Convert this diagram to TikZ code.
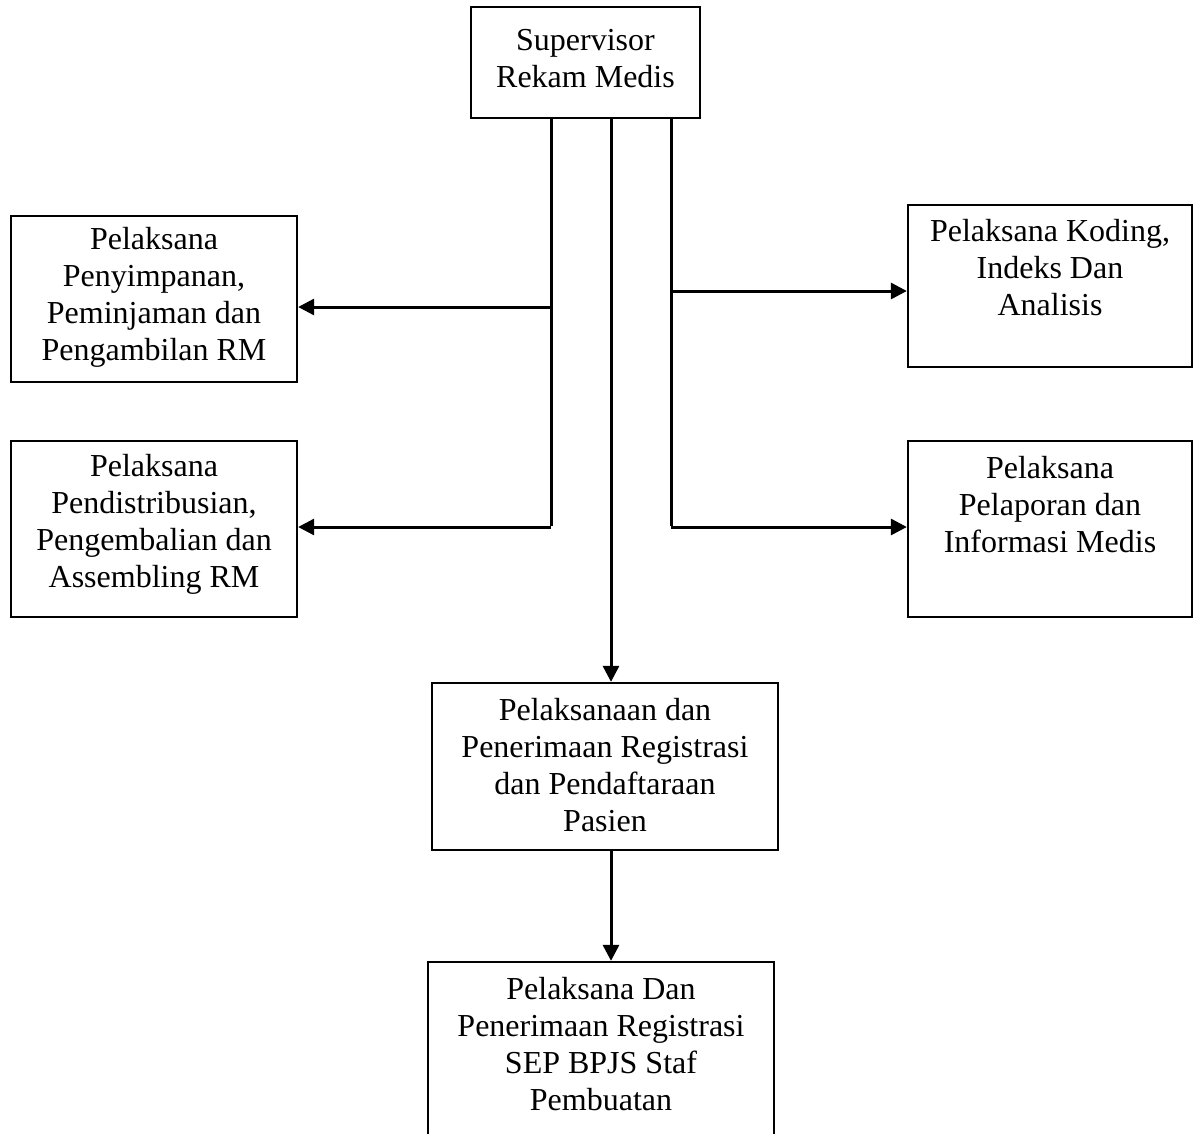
\documentclass[tikz,border=0pt]{standalone}
\usepackage{fontspec}
\setmainfont{Liberation Serif}
\usepackage{tikz}
\usetikzlibrary{arrows.meta}

\begin{document}
\begin{tikzpicture}[x=1pt, y=-1pt, line width=2pt,
  every node/.style={font=\fontsize{32}{37}\selectfont, align=center},
  box/.style={draw, rectangle, inner sep=0pt, line width=2.3pt},
  txt/.style={inner sep=0pt},
  conn/.style={line width=3pt},
  arr/.style={line width=3pt, -{Triangle[length=16pt,width=16pt]}}]
\clip (0,0) rectangle (1194,1133);
% boxes
\node[box, minimum width=229, minimum height=111] (sup) at (585.5,62.5) {};
\node[txt] (supt) at (585.5,59) {Supervisor\\Rekam Medis};
\node[box, minimum width=286, minimum height=166] (pyp) at (154,299) {};
\node[txt] (pypt) at (154,297) {Pelaksana\\Penyimpanan,\\Peminjaman dan\\Pengambilan RM};
\node[box, minimum width=286, minimum height=176] (dst) at (154,529) {};
\node[txt] (dstt) at (154,524) {Pelaksana\\Pendistribusian,\\Pengembalian dan\\Assembling RM};
\node[box, minimum width=284, minimum height=162] (kod) at (1050,286) {};
\node[txt] (kodt) at (1050,268) {Pelaksana Koding,\\Indeks Dan\\Analisis};
\node[box, minimum width=284, minimum height=176] (lap) at (1050,529) {};
\node[txt] (lapt) at (1050,505) {Pelaksana\\Pelaporan dan\\Informasi Medis};
\node[box, minimum width=346, minimum height=167] (reg) at (605,766.5) {};
\node[txt] (regt) at (605,765) {Pelaksanaan dan\\Penerimaan Registrasi\\dan Pendaftaraan\\Pasien};
\node[box, minimum width=346, minimum height=190] (sep) at (601,1057) {};
\node[txt] (sept) at (601,1044) {Pelaksana Dan\\Penerimaan Registrasi\\SEP BPJS Staf\\Pembuatan};
% branch points
\coordinate (l1) at (551,307);
\coordinate (l2) at (551,527);
\coordinate (r1) at (671,291);
\coordinate (r2) at (671,527);
% connectors
\draw[conn] ([xshift=-34.5]sup.south) -- ([yshift=1.5]l2);
\draw[arr] (l1) -- (l1 -| pyp.east);
\draw[arr] (l2) -- (l2 -| dst.east);
\draw[conn] ([xshift=85.5]sup.south) -- ([yshift=1.5]r2);
\draw[arr] (r1) -- (r1 -| kod.west);
\draw[arr] (r2) -- (r2 -| lap.west);
\draw[arr] ([xshift=25.5]sup.south) -- ([xshift=25.5]sup.south |- reg.north);
\draw[arr] ([xshift=6]reg.south) -- ([xshift=6]reg.south |- sep.north);
\end{tikzpicture}
\end{document}
